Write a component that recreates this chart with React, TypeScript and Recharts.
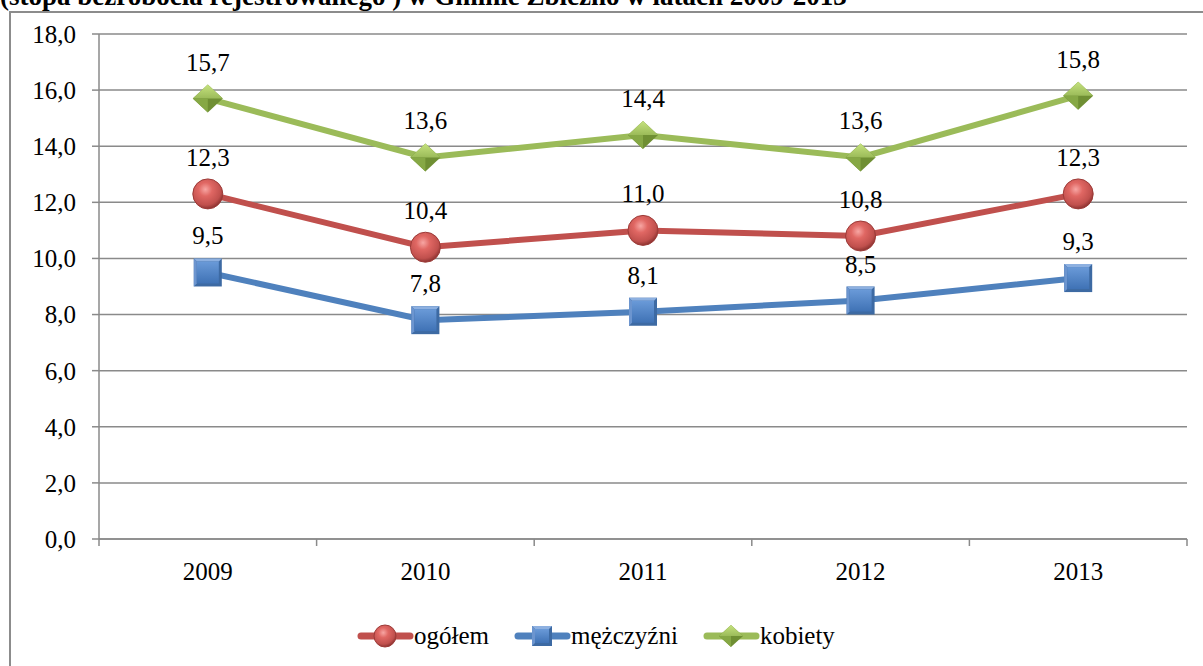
import React from 'react'
import { LineChart, Line, XAxis, YAxis, CartesianGrid, LabelList } from 'recharts'

const years = ['2009', '2010', '2011', '2012', '2013']
const ogolem = [12.3, 10.4, 11.0, 10.8, 12.3]
const mezczyzni = [9.5, 7.8, 8.1, 8.5, 9.3]
const kobiety = [15.7, 13.6, 14.4, 13.6, 15.8]
const yTicks = [0, 2, 4, 6, 8, 10, 12, 14, 16, 18]

const title = '(stopa bezrobocia rejestrowanego ) w Gminie Zbiczno w latach 2009-2013'

// x is the middle of each category band on a 0..5 numeric axis
const data = years.map((year, i) => ({
  x: i + 0.5,
  year,
  ogolem: ogolem[i],
  mezczyzni: mezczyzni[i],
  kobiety: kobiety[i],
}))

const xTicks = [0, 0.5, 1, 1.5, 2, 2.5, 3, 3.5, 4, 4.5, 5]

const FONT = 'Liberation Serif'
const GRID = '#8a8a8a'
const fmt = (v: number) => v.toFixed(1).replace('.', ',')

const series = [
  { key: 'ogolem', name: 'ogółem', color: '#c0504d', shape: 'circle' },
  { key: 'mezczyzni', name: 'mężczyźni', color: '#4f81bd', shape: 'square' },
  { key: 'kobiety', name: 'kobiety', color: '#9bbb59', shape: 'diamond' },
]

function Marker({ shape, cx, cy, size }: { shape: string; cx: number; cy: number; size: number }) {
  if (shape === 'circle') {
    return <circle cx={cx} cy={cy} r={size / 2} fill="url(#gRed)" stroke="#9c3a37" strokeWidth={1} />
  }
  if (shape === 'square') {
    const h = size / 2
    return (
      <g>
        <rect x={cx - h} y={cy - h} width={size} height={size} fill="#3d6aa3" />
        <polygon points={`${cx - h},${cy - h} ${cx + h},${cy - h} ${cx + h - 3},${cy - h + 3} ${cx - h + 3},${cy - h + 3}`} fill="#8db0e0" />
        <polygon points={`${cx - h},${cy - h} ${cx - h + 3},${cy - h + 3} ${cx - h + 3},${cy + h - 3} ${cx - h},${cy + h}`} fill="#6c95cf" />
        <rect x={cx - h + 3} y={cy - h + 3} width={size - 6} height={size - 6} fill="url(#gBlue)" />
      </g>
    )
  }
  const w = size / 2 + 1
  const hh = size / 2
  return (
    <g>
      <polygon points={`${cx},${cy - hh} ${cx + w},${cy} ${cx},${cy + hh} ${cx - w},${cy}`} fill="#6f8f33" />
      <polygon points={`${cx},${cy - hh} ${cx + w},${cy} ${cx},${cy} ${cx - w},${cy}`} fill="url(#gGreenTop)" />
      <polygon points={`${cx - w},${cy} ${cx},${cy} ${cx},${cy + hh}`} fill="#86a845" />
    </g>
  )
}

const makeDot = (shape: string, size: number) => (props: any) => {
  const { cx, cy, index } = props
  if (cx == null || cy == null) return <g key={index} />
  return <Marker key={index} shape={shape} cx={cx} cy={cy} size={size} />
}

const ValueLabel = (props: any) => {
  const { x, y, value } = props
  return (
    <text x={x} y={y - 28} textAnchor="middle" fontFamily={FONT} fontSize={25} fill="#000">
      {fmt(value)}
    </text>
  )
}

const XTick = (props: any) => {
  const { x, y, payload } = props
  const v = payload.value as number
  if (Number.isInteger(v)) {
    return <line x1={x} y1={y} x2={x} y2={y + 7} stroke={GRID} strokeWidth={1.5} />
  }
  return (
    <text x={x} y={y + 41} textAnchor="middle" fontFamily={FONT} fontSize={25} fill="#000">
      {years[Math.floor(v)]}
    </text>
  )
}

function Defs() {
  return (
    <defs>
      <radialGradient id="gRed" cx="0.42" cy="0.35" r="0.65">
        <stop offset="0%" stopColor="#f7a6a3" />
        <stop offset="35%" stopColor="#e06763" />
        <stop offset="80%" stopColor="#c0504d" />
        <stop offset="100%" stopColor="#8e3432" />
      </radialGradient>
      <linearGradient id="gBlue" x1="0" y1="0" x2="0" y2="1">
        <stop offset="0%" stopColor="#6a9ad8" />
        <stop offset="100%" stopColor="#3f72b5" />
      </linearGradient>
      <linearGradient id="gGreenTop" x1="0" y1="0" x2="0" y2="1">
        <stop offset="0%" stopColor="#c6e27f" />
        <stop offset="100%" stopColor="#9bbb59" />
      </linearGradient>
    </defs>
  )
}

function LegendItem({ s }: { s: (typeof series)[number] }) {
  return (
    <div style={{ display: 'flex', alignItems: 'center', marginRight: 25 }}>
      <svg width={57} height={30}>
        <Defs />
        <line x1={4} y1={15} x2={53} y2={15} stroke={s.color} strokeWidth={7} strokeLinecap="round" />
        <Marker shape={s.shape} cx={28} cy={15} size={s.shape === 'circle' ? 22 : s.shape === 'square' ? 20 : 22} />
      </svg>
      <span style={{ fontFamily: FONT, fontSize: 25, color: '#000', lineHeight: '30px' }}>{s.name}</span>
    </div>
  )
}

export default function App() {
  return (
    <div style={{ position: 'absolute', left: 0, top: 0, width: 1203, height: 666, overflow: 'hidden', background: '#fff' }}>
      <svg width={1203} height={12} style={{ position: 'absolute', left: 0, top: 0 }}>
        <text x={0} y={5} fontFamily={FONT} fontWeight="bold" fontSize={27} fill="#000">
          {title}
        </text>
      </svg>
      <div
        style={{
          position: 'absolute',
          left: 9,
          top: 11,
          width: 1300,
          height: 800,
          border: '2px solid #8c8c8c',
          boxSizing: 'border-box',
        }}
      />
      <div style={{ position: 'absolute', left: 0, top: 0 }}>
        <LineChart width={1203} height={666} data={data} margin={{ top: 34, right: 16, left: 39, bottom: 97 }}>
          <Defs />
          <CartesianGrid vertical={false} stroke={GRID} strokeWidth={1.5} />
          <XAxis
            dataKey="x"
            type="number"
            domain={[0, 5]}
            ticks={xTicks}
            interval={0}
            height={30}
            tickLine={false}
            tickSize={0}
            tickMargin={0}
            axisLine={{ stroke: GRID, strokeWidth: 1.5 }}
            tick={<XTick />}
          />
          <YAxis
            domain={[0, 18]}
            ticks={yTicks}
            interval={0}
            width={60}
            tickSize={7}
            tickMargin={16}
            tickFormatter={fmt}
            axisLine={{ stroke: GRID, strokeWidth: 1.5 }}
            tickLine={{ stroke: GRID, strokeWidth: 1.5 }}
            tick={{ fontFamily: FONT, fontSize: 25, fill: '#000' }}
          />
          {series.map((s) => (
            <Line
              key={s.key}
              dataKey={s.key}
              name={s.name}
              stroke={s.color}
              strokeWidth={6}
              isAnimationActive={false}
              dot={makeDot(s.shape, s.shape === 'circle' ? 30 : 28)}
              activeDot={false}
            >
              <LabelList dataKey={s.key} content={<ValueLabel />} />
            </Line>
          ))}
        </LineChart>
      </div>
      <div style={{ position: 'absolute', left: 357, top: 621, display: 'flex' }}>
        {series.map((s) => (
          <LegendItem key={s.key} s={s} />
        ))}
      </div>
    </div>
  )
}
